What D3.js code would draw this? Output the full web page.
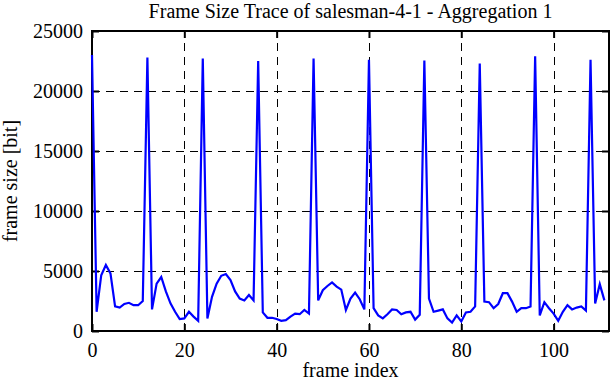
<!DOCTYPE html>
<html>
<head>
<meta charset="utf-8">
<script src="https://cdn.jsdelivr.net/npm/d3@7"></script>
<style>
  body { margin: 0; background: #fff; }
  text { font-family: "Liberation Serif", "DejaVu Serif", serif; fill: #000; }
</style>
</head>
<body>
<svg id="chart"></svg>
<script>
// frame sizes in bit, one per frame (index = frame number)
var frameSizes = [
  23000, 1600, 4650, 5500, 4800, 2050, 1950, 2250, 2350, 2150, 2150, 2500,
  22800, 1800, 3950, 4500, 3300, 2300, 1600, 1000, 1050, 1600, 1200, 850,
  22700, 1050, 2850, 3950, 4600, 4750, 4250, 3300, 2700, 2550, 3000, 2550,
  22500, 1550, 1100, 1100, 1000, 850, 900, 1200, 1450, 1400, 1750, 1450,
  22700, 2550, 3400, 3750, 4050, 3700, 3450, 1750, 2700, 3200, 2650, 1800,
  22600, 1900, 1300, 1050, 1400, 1800, 1750, 1400, 1550, 1600, 950, 1350,
  22550, 2700, 1600, 1700, 1800, 1050, 700, 1300, 800, 1550, 1600, 2050,
  22300, 2450, 2400, 1900, 2250, 3150, 3150, 2450, 1600, 1900, 1900, 2050,
  22900, 1300, 2400, 1900, 1450, 850, 1600, 2150, 1800, 1950, 2050, 1700,
  22600, 2300, 3900, 2550
];
var xTicks = [0, 20, 40, 60, 80, 100];
var yTicks = [0, 5000, 10000, 15000, 20000, 25000];
var titleText = "Frame Size Trace of salesman-4-1 - Aggregation 1";
var xLabel = "frame index";
var yLabel = "frame size [bit]";

var width = 612, height = 382;
var margin = {left: 92, right: 3, top: 31, bottom: 51};

var svg = d3.select("#chart")
    .attr("width", width)
    .attr("height", height);

var x = d3.scaleLinear().domain([0, 112]).range([margin.left, width - margin.right]);
var y = d3.scaleLinear().domain([0, 25000]).range([height - margin.bottom, margin.top]);

var x0 = x.range()[0], x1 = x.range()[1], y0 = y.range()[0], y1 = y.range()[1];

// dashed grid
var grid = svg.append("g").attr("stroke", "#000").attr("stroke-width", 1)
    .attr("stroke-dasharray", "8,6");
grid.selectAll("line.gx")
    .data(xTicks.filter(function (d) { return d > 0; }))
    .enter().append("line")
    .attr("x1", function (d) { return Math.round(x(d)) + 0.5; })
    .attr("x2", function (d) { return Math.round(x(d)) + 0.5; })
    .attr("y1", y0).attr("y2", y1);
grid.selectAll("line.gy")
    .data(yTicks.filter(function (d) { return d > 0 && d < 25000; }))
    .enter().append("line")
    .attr("y1", function (d) { return Math.round(y(d)) + 0.5; })
    .attr("y2", function (d) { return Math.round(y(d)) + 0.5; })
    .attr("x1", x0).attr("x2", x1);

// axes: inward ticks, mirrored on top and right
var tick = 7;
var axBottom = svg.append("g")
    .attr("transform", "translate(0," + y0 + ")")
    .call(d3.axisBottom(x).tickValues(xTicks).tickSize(-tick).tickPadding(12));
var axTop = svg.append("g")
    .attr("transform", "translate(0," + y1 + ")")
    .call(d3.axisTop(x).tickValues(xTicks).tickSize(-tick).tickFormat(""));
var axLeft = svg.append("g")
    .attr("transform", "translate(" + x0 + ",0)")
    .call(d3.axisLeft(y).tickValues(yTicks).tickSize(-tick).tickPadding(9).tickFormat(d3.format("d")));
var axRight = svg.append("g")
    .attr("transform", "translate(" + x1 + ",0)")
    .call(d3.axisRight(y).tickValues(yTicks).tickSize(-tick).tickFormat(""));

[axBottom, axTop, axLeft, axRight].forEach(function (g) {
  g.select(".domain").remove();
  g.selectAll(".tick line").attr("stroke", "#000").attr("stroke-width", 2);
  g.selectAll("text")
    .attr("font-family", "Liberation Serif, serif")
    .attr("font-size", 20)
    .attr("fill", "#000");
});

// frame
svg.append("rect")
    .attr("x", x0).attr("y", y1)
    .attr("width", x1 - x0).attr("height", y0 - y1)
    .attr("fill", "none")
    .attr("stroke", "#000")
    .attr("stroke-width", 2);

// the trace (drawn over the frame, as in the original)
var line = d3.line()
    .x(function (d, i) { return x(i); })
    .y(function (d) { return y(d); });

svg.append("path")
    .datum(frameSizes)
    .attr("fill", "none")
    .attr("stroke", "#0000ff")
    .attr("stroke-width", 2.2)
    .attr("stroke-linejoin", "miter")
    .attr("d", line);

svg.append("text")
    .attr("x", (x0 + x1) / 2).attr("y", 18)
    .attr("text-anchor", "middle")
    .attr("font-size", 20)
    .text(titleText);

svg.append("text")
    .attr("x", (x0 + x1) / 2).attr("y", 377)
    .attr("text-anchor", "middle")
    .attr("font-size", 20)
    .text(xLabel);

svg.append("text")
    .attr("transform", "translate(17," + (y0 + y1) / 2 + ") rotate(-90)")
    .attr("text-anchor", "middle")
    .attr("font-size", 20)
    .text(yLabel);
</script>
</body>
</html>
